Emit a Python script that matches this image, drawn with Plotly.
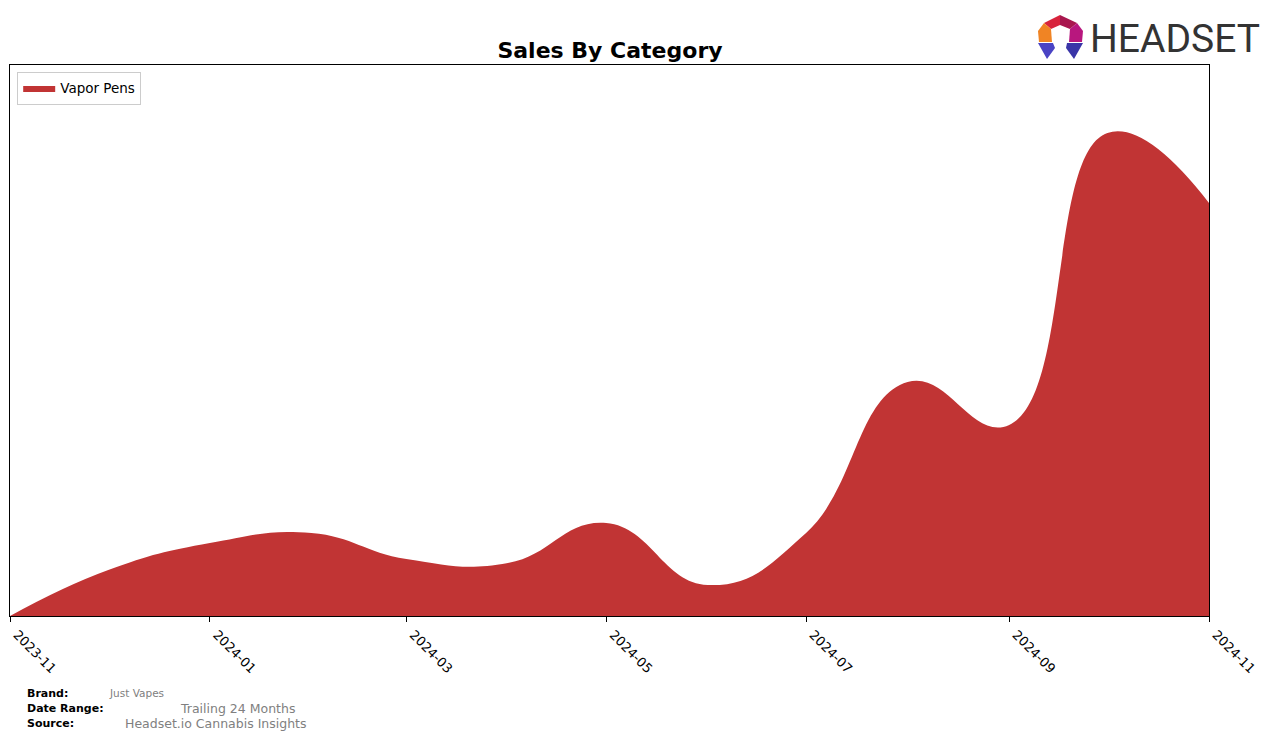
import plotly.graph_objects as go

# ── data (monthly; y in arbitrary sales units) ─────────────────────────────────
months = [
    "2023-11-01", "2023-12-01", "2024-01-01", "2024-02-01", "2024-03-01",
    "2024-04-01", "2024-05-01", "2024-06-01", "2024-07-01", "2024-08-01",
    "2024-09-01", "2024-10-01", "2024-11-01",
]
vapor_pens = [0, 46, 73, 83, 57, 53, 93, 31, 83, 234, 191, 483, 413]

tick_vals = ["2023-11-01", "2024-01-01", "2024-03-01", "2024-05-01",
             "2024-07-01", "2024-09-01", "2024-11-01"]
tick_text = ["2023-11", "2024-01", "2024-03", "2024-05", "2024-07", "2024-09", "2024-11"]

# the page body has an 8px margin, so the figure is drawn 8px in from the corner
OFF = 8
W, H = 1276 - OFF, 740 - OFF
L, R, T, B = 10, 1209, 65, 616  # plot area in screen pixels
RED = "#C13434"
FONT = "DejaVu Sans, Arial, sans-serif"


def px(x, y):
    """screen pixel -> paper coords"""
    return (x - L) / (R - L), (B - y) / (B - T)


def poly(points, color):
    parts = []
    for i, (x, y) in enumerate(points):
        a, b = px(x, y)
        parts.append(("M" if i == 0 else "L") + f"{a:.5f},{b:.5f}")
    return dict(type="path", xref="paper", yref="paper", path=" ".join(parts) + " Z",
                fillcolor=color, line=dict(width=0), layer="above")


fig = go.Figure()
fig.add_trace(go.Scatter(
    x=months, y=vapor_pens, name="Vapor Pens",
    mode="lines", line=dict(shape="spline", smoothing=1.3, width=0, color=RED),
    fill="tozeroy", fillcolor=RED,
))

# Headset logo mark
shapes = [
    poly([(1044, 23), (1060, 15), (1060, 25), (1051, 29)], "#D8243C"),
    poly([(1060, 15), (1077, 23), (1070, 29), (1060, 25)], "#A8174E"),
    poly([(1044, 23), (1051, 29), (1052, 42), (1039, 42), (1038, 31)], "#F08424"),
    poly([(1077, 23), (1070, 29), (1069, 42), (1082, 42), (1083, 31)], "#B8177E"),
    poly([(1038, 43), (1053, 43), (1055, 48), (1047, 59)], "#4A43C4"),
    poly([(1067, 43), (1083, 43), (1074, 59), (1066, 48)], "#3A35A8"),
]

annotations = []


def note(x, y, text, size, color, bold=False, family=FONT):
    a, b = px(x, y)
    annotations.append(dict(
        x=a, y=b, xref="paper", yref="paper", xanchor="left", yanchor="middle",
        text=f"<b>{text}</b>" if bold else text, showarrow=False,
        font=dict(family=family, size=size, color=color),
    ))


note(1088, 39, "HEADSET", 39, "#333333", family="Roboto, Arial")
note(25, 693, "Brand:", 11, "black", bold=True)
note(107, 693, "Just Vapes", 10.5, "#808080")
note(25, 709, "Date Range:", 11, "black", bold=True)
note(178, 709, "Trailing 24 Months", 12.5, "#808080")
note(25, 723, "Source:", 11, "black", bold=True)
note(123, 723, "Headset.io Cannabis Insights", 12.5, "#808080")

fig.update_layout(
    width=W, height=H,
    margin=dict(l=L - OFF, r=W - (R - OFF), t=T - OFF, b=H - (B - OFF), autoexpand=False),
    paper_bgcolor="white", plot_bgcolor="white",
    font=dict(family=FONT, size=12, color="black"),
    title=dict(text="<b>Sales By Category</b>", x=(610 - OFF) / W, xanchor="center",
               y=1 - (50 - OFF) / H, yanchor="middle", font=dict(size=22, color="black")),
    showlegend=True,
    legend=dict(x=0.006, y=0.988, xanchor="left", yanchor="top",
                bgcolor="white", bordercolor="#CCCCCC", borderwidth=1,
                font=dict(size=13.5), itemwidth=32),
    xaxis=dict(
        type="date", range=["2023-11-01", "2024-11-01"],
        tickvals=tick_vals, ticktext=tick_text, tickangle=45,
        ticks="outside", ticklen=5, tickcolor="black",
        ticklabelshift=7, ticklabeloverflow="allow",
        showline=True, linecolor="black", mirror=True, automargin=False,
        showgrid=False, zeroline=False, tickfont=dict(size=13),
    ),
    yaxis=dict(
        range=[0, 551], showticklabels=False, ticks="",
        showline=True, linecolor="black", mirror=True, automargin=False,
        showgrid=False, zeroline=False,
    ),
    shapes=shapes,
    annotations=annotations,
)

fig.write_html("out.html")
